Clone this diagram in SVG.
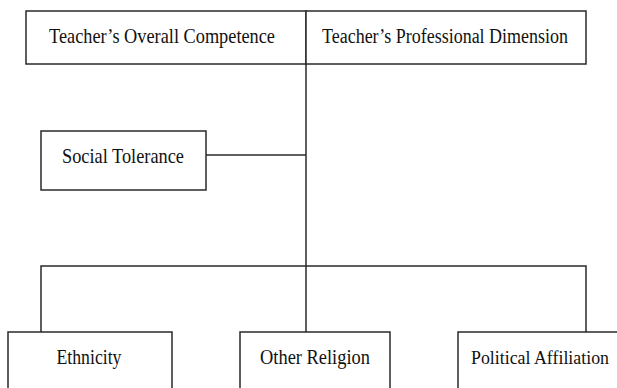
<svg xmlns="http://www.w3.org/2000/svg" width="617" height="388" viewBox="0 0 617 388">
<style>
.box{fill:#fff;stroke:#2a2a2a;stroke-width:1.5}
.ln{fill:none;stroke:#2a2a2a;stroke-width:1.5}
text{font-family:"Liberation Serif","Times New Roman",serif;font-size:21px;fill:#111;text-anchor:middle}
</style>
<rect width="617" height="388" fill="#fff"/>
<g id="connectors">
<line class="ln" x1="306" y1="64" x2="306" y2="332"/>
<line class="ln" x1="206" y1="155" x2="306" y2="155"/>
<polyline class="ln" points="41,332 41,266 586,266 586,332"/>
</g>
<g id="overall">
<rect class="box" x="26" y="11" width="280" height="53"/>
<text x="162" y="43" textLength="226" lengthAdjust="spacingAndGlyphs">Teacher’s Overall Competence</text>
</g>
<g id="professional">
<rect class="box" x="306" y="11" width="280" height="53"/>
<text x="445" y="43" textLength="246" lengthAdjust="spacingAndGlyphs" style="font-size:20px">Teacher’s Professional Dimension</text>
</g>
<g id="social">
<rect class="box" x="41" y="131" width="165" height="59"/>
<text x="123" y="163" textLength="122" lengthAdjust="spacingAndGlyphs">Social Tolerance</text>
</g>
<g id="ethnicity">
<rect class="box" x="8" y="332" width="164" height="70"/>
<text x="89" y="364" textLength="65" lengthAdjust="spacingAndGlyphs">Ethnicity</text>
</g>
<g id="religion">
<rect class="box" x="240" y="332" width="150" height="70"/>
<text x="315" y="364" textLength="110" lengthAdjust="spacingAndGlyphs">Other Religion</text>
</g>
<g id="political">
<rect class="box" x="458" y="332" width="175" height="70"/>
<text x="540" y="364" textLength="138" lengthAdjust="spacingAndGlyphs" style="font-size:18px">Political Affiliation</text>
</g>
</svg>
